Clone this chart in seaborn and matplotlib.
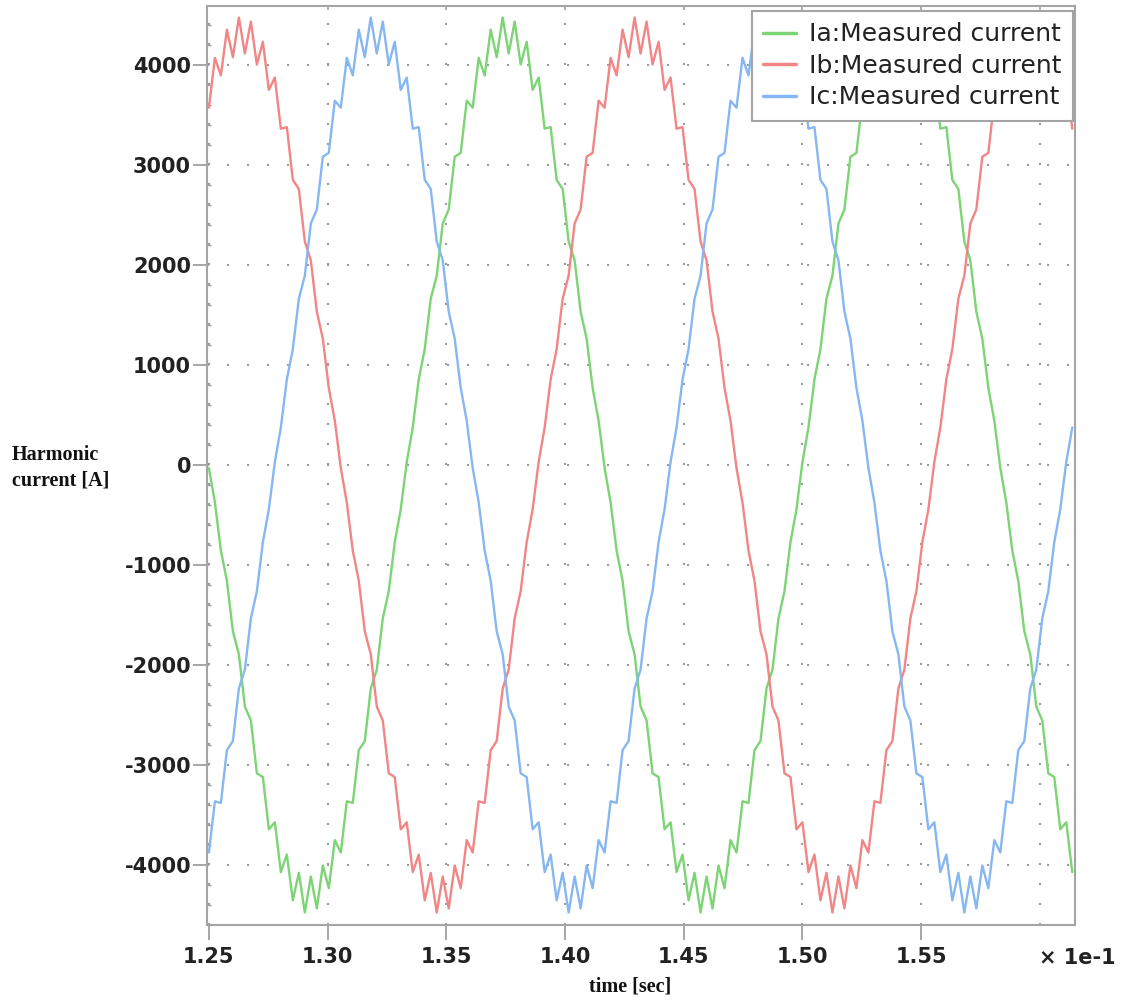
import numpy as np
import pandas as pd
import matplotlib
matplotlib.use("Agg")
import matplotlib.pyplot as plt
import seaborn as sns
from matplotlib.ticker import MultipleLocator

# ---------------- data ----------------
t_start = 1.25            # x axis in units of 1e-1 s
t_step = 0.16667 / 66

ia_values = [
    -30, -375, -856, -1159, -1662, -1893, -2415, -2555, -3083, -3121, -3643, -3573,
    -4071, -3896, -4353, -4078, -4475, -4115, -4434, -4005, -4232, -3751, -3875, -3363,
    -3379, -2851, -2761, -2235, -2047, -1534, -1263, -772, -443,
    30, 375, 856, 1159, 1662, 1893, 2415, 2555, 3083, 3121, 3643, 3573,
    4071, 3896, 4353, 4078, 4475, 4115, 4434, 4005, 4232, 3751, 3875, 3363,
    3379, 2851, 2761, 2235, 2047, 1534, 1263, 772, 443,
    -30, -375, -856, -1159, -1662, -1893, -2415, -2555, -3083, -3121, -3643, -3573,
    -4071, -3896, -4353, -4078, -4475, -4115, -4434, -4005, -4232, -3751, -3875, -3363,
    -3379, -2851, -2761, -2235, -2047, -1534, -1263, -772, -443,
    30, 375, 856, 1159, 1662, 1893, 2415, 2555, 3083, 3121, 3643, 3573,
    4071, 3896, 4353, 4078, 4475, 4115, 4434, 4005, 4232, 3751, 3875, 3363,
    3379, 2851, 2761, 2235, 2047, 1534, 1263, 772, 443,
    -30, -375, -856, -1159, -1662, -1893, -2415, -2555, -3083, -3121, -3643, -3573,
    -4071,
]

ib_values = [
    3573, 4071, 3896, 4353, 4078, 4475, 4115, 4434, 4005, 4232, 3751, 3875, 3363,
    3379, 2851, 2761, 2235, 2047, 1534, 1263, 772, 443,
    -30, -375, -856, -1159, -1662, -1893, -2415, -2555, -3083, -3121, -3643, -3573,
    -4071, -3896, -4353, -4078, -4475, -4115, -4434, -4005, -4232, -3751, -3875, -3363,
    -3379, -2851, -2761, -2235, -2047, -1534, -1263, -772, -443,
    30, 375, 856, 1159, 1662, 1893, 2415, 2555, 3083, 3121, 3643, 3573,
    4071, 3896, 4353, 4078, 4475, 4115, 4434, 4005, 4232, 3751, 3875, 3363,
    3379, 2851, 2761, 2235, 2047, 1534, 1263, 772, 443,
    -30, -375, -856, -1159, -1662, -1893, -2415, -2555, -3083, -3121, -3643, -3573,
    -4071, -3896, -4353, -4078, -4475, -4115, -4434, -4005, -4232, -3751, -3875, -3363,
    -3379, -2851, -2761, -2235, -2047, -1534, -1263, -772, -443,
    30, 375, 856, 1159, 1662, 1893, 2415, 2555, 3083, 3121, 3643, 3573,
    4071, 3896, 4353, 4078, 4475, 4115, 4434, 4005, 4232, 3751, 3875, 3363,
]

ic_values = [
    -3875, -3363, -3379, -2851, -2761, -2235, -2047, -1534, -1263, -772, -443,
    30, 375, 856, 1159, 1662, 1893, 2415, 2555, 3083, 3121, 3643, 3573,
    4071, 3896, 4353, 4078, 4475, 4115, 4434, 4005, 4232, 3751, 3875, 3363,
    3379, 2851, 2761, 2235, 2047, 1534, 1263, 772, 443,
    -30, -375, -856, -1159, -1662, -1893, -2415, -2555, -3083, -3121, -3643, -3573,
    -4071, -3896, -4353, -4078, -4475, -4115, -4434, -4005, -4232, -3751, -3875, -3363,
    -3379, -2851, -2761, -2235, -2047, -1534, -1263, -772, -443,
    30, 375, 856, 1159, 1662, 1893, 2415, 2555, 3083, 3121, 3643, 3573,
    4071, 3896, 4353, 4078, 4475, 4115, 4434, 4005, 4232, 3751, 3875, 3363,
    3379, 2851, 2761, 2235, 2047, 1534, 1263, 772, 443,
    -30, -375, -856, -1159, -1662, -1893, -2415, -2555, -3083, -3121, -3643, -3573,
    -4071, -3896, -4353, -4078, -4475, -4115, -4434, -4005, -4232, -3751, -3875, -3363,
    -3379, -2851, -2761, -2235, -2047, -1534, -1263, -772, -443,
    30, 375,
]

series_names = ["Ia:Measured current", "Ib:Measured current", "Ic:Measured current"]
series_colors = ["#7cd474", "#f28585", "#86b7f2"]

x_ticks = [1.25, 1.30, 1.35, 1.40, 1.45, 1.50, 1.55, 1.60]
x_tick_labels = ["1.25", "1.30", "1.35", "1.40", "1.45", "1.50", "1.55", ""]
y_ticks = [-4000, -3000, -2000, -1000, 0, 1000, 2000, 3000, 4000]
y_tick_labels = ["-4000", "-3000", "-2000", "-1000", "0", "1000", "2000", "3000", "4000"]

# ---------------- build table ----------------
frames = []
for name, vals in zip(series_names, [ia_values, ib_values, ic_values]):
    frames.append(pd.DataFrame({
        "time": t_start + t_step * np.arange(len(vals)),
        "current": vals,
        "phase": name,
    }))
df = pd.concat(frames, ignore_index=True)

# ---------------- style ----------------
sns.set_theme(style="white")
plt.rcParams["font.family"] = ["DejaVu Sans"]
plt.rcParams["axes.unicode_minus"] = False

W, H = 1123, 1008
fig = plt.figure(figsize=(W / 100, H / 100), dpi=100)
L, R, T, B = 207, 1075, 6, 925
ax = fig.add_axes([L / W, 1 - B / H, (R - L) / W, (B - T) / H])

sns.lineplot(data=df, x="time", y="current", hue="phase",
             palette=dict(zip(series_names, series_colors)),
             estimator=None, sort=False, linewidth=1.7, ax=ax)

ax.set_xlim(1.2492, 1.6148)
ax.set_ylim(-4600, 4590)
ax.set_xlabel("")
ax.set_ylabel("")

grid_color = "#9c9c9c"
ax.set_axisbelow(True)
ax.grid(True, which="major", color=grid_color, linestyle=(0, (1, 8.6)), linewidth=1.5)

ax.set_xticks(x_ticks)
ax.set_xticklabels(x_tick_labels)
ax.set_yticks(y_ticks)
ax.set_yticklabels(y_tick_labels)
ax.yaxis.set_minor_locator(MultipleLocator(200))

ax.tick_params(axis="both", which="major", direction="out", width=1.3,
               color="#a0a0a0", labelsize=15, labelcolor="#222222",
               bottom=True, left=True)
ax.tick_params(axis="x", which="major", length=11, pad=5)
ax.tick_params(axis="y", which="major", length=10, pad=1.5)
ax.tick_params(axis="y", which="minor", direction="in", length=3, width=1,
               color="#a0a0a0", left=True)
ax.xaxis.get_major_ticks()[-1].tick1line.set_visible(False)
for lbl in ax.get_xticklabels() + ax.get_yticklabels():
    lbl.set_fontweight("bold")

for s in ax.spines.values():
    s.set_color("#a4a4a4")
    s.set_linewidth(1.5)

# small inward marks on the top frame at the grid positions
top = ax.secondary_xaxis("top")
top.set_xticks(x_ticks[1:])
top.tick_params(axis="x", direction="in", length=3, width=1.2, color="#a0a0a0",
                labeltop=False, top=True)
top.spines["top"].set_visible(False)

fig.text(1077 / W, 1 - 958 / H, "× 1e-1", ha="center", va="center",
         fontsize=15, fontweight="bold", color="#222222")

# axis titles
fig.text(12 / W, 1 - 468 / H, "Harmonic\ncurrent [A]", ha="left", va="center",
         family=["Liberation Serif"], fontweight="bold", fontsize=14.5,
         linespacing=1.35, color="#111111")
fig.text(630 / W, 1 - 986 / H, "time [sec]", ha="center", va="center",
         family=["Liberation Serif"], fontweight="bold", fontsize=14.5,
         color="#111111")

# legend
handles, labels = ax.get_legend_handles_labels()
if ax.get_legend() is not None:
    ax.get_legend().remove()
leg = ax.legend(handles, labels, loc="upper right",
                bbox_to_anchor=(1073 / W, 1 - 11 / H), bbox_transform=fig.transFigure,
                borderaxespad=0, fontsize=18, frameon=True, fancybox=False,
                edgecolor="#a4a4a4", facecolor="white", framealpha=1,
                handlelength=1.3, handletextpad=0.55, labelspacing=0.3,
                borderpad=0.45)
leg.get_frame().set_linewidth(1.5)
for line in leg.get_lines():
    line.set_linewidth(2.5)
for txt in leg.get_texts():
    txt.set_color("#222222")

fig.savefig("out.png", dpi=100)
